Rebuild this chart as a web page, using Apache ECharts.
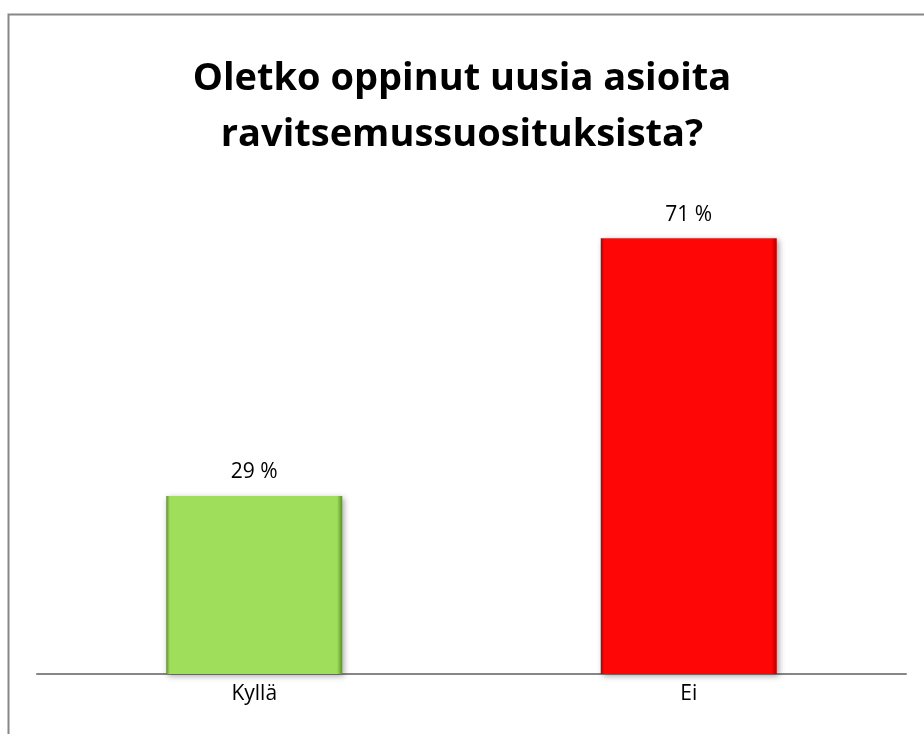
<!DOCTYPE html>
<html><head><meta charset="utf-8">
<script src="https://cdn.jsdelivr.net/npm/echarts@6/dist/echarts.min.js"></script>
<style>html,body{margin:0;padding:0;background:#fff}#c{width:924px;height:734px}</style>
</head><body><div id="c"></div>
<script>
const titleText = 'Oletko oppinut uusia asioita\nravitsemussuosituksista?';
const categories = ['Kyllä', 'Ei'];
const values = [29, 71];
const barColors = ['#9ede5a', '#ff0606'];
const barEdges = ['#5f8f2a', '#b00000'];

const chart = echarts.init(document.getElementById('c'), null, {renderer: 'canvas'});
chart.setOption({
  animation: false,
  backgroundColor: '#fff',
  graphic: [{
    type: 'rect', left: 6, top: 12, shape: {width: 940, height: 760},
    style: {fill: 'none', stroke: '#878787', lineWidth: 2}, z: 100
  }],
  title: {
    text: titleText, left: 'center', top: 46,
    textStyle: {fontFamily: 'Open Sans', fontWeight: 'bold', fontSize: 38, lineHeight: 56, color: '#000'}
  },
  grid: {left: 37, right: 18, top: 183, bottom: 60},
  xAxis: {
    type: 'category', data: categories,
    axisLine: {lineStyle: {color: '#868686', width: 2}},
    axisTick: {show: false},
    axisLabel: {margin: 10, fontFamily: 'Open Sans', fontSize: 21, color: '#000'}
  },
  yAxis: {type: 'value', min: 0, max: 80, show: false, splitLine: {show: false}},
  series: [{
    type: 'bar', barWidth: '40.5%',
    data: values.map((v, i) => ({
      value: v,
      itemStyle: {
        color: {type: 'linear', x: 0, y: 0, x2: 1, y2: 0, colorStops: [
          {offset: 0, color: barEdges[i]}, {offset: 0.02, color: barColors[i]},
          {offset: 0.97, color: barColors[i]}, {offset: 1, color: barEdges[i]}]},
        shadowColor: 'rgba(0,0,0,0.35)', shadowBlur: 6, shadowOffsetX: 2, shadowOffsetY: 2
      }
    })),
    label: {show: true, position: 'top', distance: 13, formatter: p => p.value + ' %',
      fontFamily: 'Open Sans', fontSize: 21, color: '#000'}
  }]
});
</script></body></html>
